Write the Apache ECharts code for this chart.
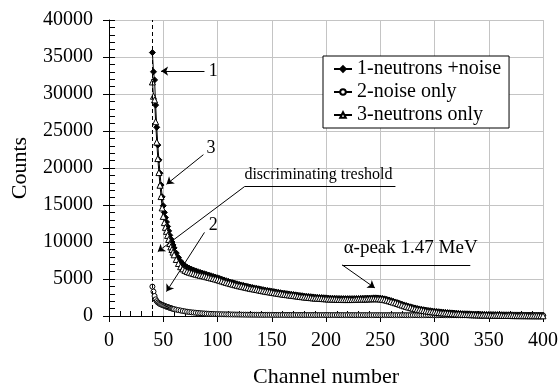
<!DOCTYPE html>
<html>
<head>
<meta charset="utf-8">
<script src="https://cdn.jsdelivr.net/npm/echarts@6/dist/echarts.min.js"></script>
<style>
  html, body { margin: 0; padding: 0; background: #fff; }
  #chart { width: 559px; height: 392px; }
</style>
</head>
<body>
<div id="chart"></div>
<script>
// channel numbers (every channel near the threshold, every 2nd afterwards)
var channels = [40,41,42,43,44,45,46,47,48,49,50,51,52,53,54,55,56,57,58,59,
  60,62,64,66,68,70,72,74,76,78,80,82,84,86,88,90,92,94,96,98,100,
  102,104,106,108,110,112,114,116,118,120,122,124,126,128,130,132,134,136,138,140,
  142,144,146,148,150,152,154,156,158,160,162,164,166,168,170,172,174,176,178,180,
  182,184,186,188,190,192,194,196,198,200,202,204,206,208,210,212,214,216,218,220,
  222,224,226,228,230,232,234,236,238,240,242,244,246,248,250,252,254,256,258,260,
  262,264,266,268,270,272,274,276,278,280,282,284,286,288,290,292,294,296,298,300,
  302,304,306,308,310,312,314,316,318,320,322,324,326,328,330,332,334,336,338,340,
  342,344,346,348,350,352,354,356,358,360,362,364,366,368,370,372,374,376,378,380,
  382,384,386,388,390,392,394,396,398,400];

// 1-neutrons +noise
var neutronsNoise = [35600,33000,31900,28500,25500,23100,21100,19300,17700,16100,14900,14000,13300,12700,12100,11500,10900,10400,10000,9600,
  9200,8500,7900,7400,7050,6800,6600,6450,6320,6200,6090,5990,5890,5800,5710,5620,5530,5440,5350,5260,5170,
  5070,4970,4870,4770,4680,4590,4510,4430,4350,4270,4200,4130,4060,3990,3920,3860,3800,3740,3680,3620,
  3560,3500,3450,3400,3350,3300,3250,3200,3150,3100,3060,3020,2980,2940,2900,2860,2820,2780,2740,2700,
  2670,2640,2610,2580,2550,2530,2510,2490,2470,2450,2430,2410,2400,2390,2380,2370,2360,2350,2350,2350,
  2350,2350,2360,2370,2380,2390,2400,2410,2420,2430,2440,2450,2450,2440,2420,2380,2320,2250,2170,2080,
  1990,1900,1800,1700,1600,1500,1410,1320,1240,1160,1090,1020,960,900,850,800,760,720,680,640,
  610,580,550,520,490,460,440,420,400,380,360,340,320,310,300,290,280,270,260,250,
  240,230,220,215,210,205,200,195,190,185,180,175,170,165,160,155,150,148,145,142,
  140,138,135,132,130,128,125,122,120,118];

// 2-noise only
var noiseOnly = [3970,3300,2700,2250,2000,1830,1720,1630,1560,1500,1440,1380,1320,1260,1210,1160,1110,1060,1010,970,
  930,860,800,740,680,630,580,540,500,470,440,410,385,360,340,320,305,290,275,265,255,
  245,238,231,224,218,212,206,201,196,191,187,183,179,175,172,169,166,163,160,158,
  156,154,152,150,148,147,146,145,144,143,142,141,140,139,138,138,137,137,136,136,
  135,135,134,134,133,133,132,132,131,131,130,130,129,129,128,128,127,127,126,126,
  125,125,124,124,123,123,122,122,121,121,120,120,120,119,119,118,118,117,117,116,
  116,115,115,114,114,113,113,112,112,112,111,111,111,110,110,110,109,109,109,108,
  108,108,107,107,107,106,106,106,105,105,105,104,104,104,103,103,103,102,102,102,
  101,101,101,100,100,100,99,99,99,98,98,98,97,97,97,96,96,96,95,95,
  95,94,94,94,93,93,93,92,92,92];

// 3-neutrons only
var neutronsOnly = [31630,29700,29200,26250,23500,21270,19380,17670,16140,14600,13460,12620,11980,11440,10890,10340,9790,9340,8990,8630,
  8270,7640,7100,6660,6370,6170,6020,5910,5820,5730,5650,5580,5505,5440,5370,5300,5225,5150,5075,4995,4915,
  4825,4732,4639,4546,4462,4378,4304,4229,4154,4079,4013,3947,3881,3815,3748,3691,3634,3577,3520,3462,
  3404,3346,3298,3250,3202,3153,3104,3055,3006,2957,2918,2879,2840,2801,2762,2722,2683,2643,2604,2564,
  2535,2505,2476,2446,2417,2397,2378,2358,2339,2319,2300,2280,2271,2261,2252,2242,2233,2223,2224,2224,
  2225,2225,2236,2246,2257,2267,2278,2288,2299,2309,2320,2330,2330,2321,2301,2262,2202,2133,2053,1964,
  1874,1785,1685,1586,1486,1387,1297,1208,1128,1048,979,909,849,790,740,690,651,611,571,532,
  502,472,443,413,383,354,334,314,295,275,255,236,216,206,197,187,177,168,158,148,
  139,129,119,115,110,105,101,96,91,87,82,77,73,68,63,59,54,52,50,47,
  45,44,41,38,37,35,32,30,28,26];

var seriesNames = ['1-neutrons +noise', '2-noise only', '3-neutrons only'];
var xTicks = { min: 0, max: 400, interval: 50 };
var yTicks = { min: 0, max: 40000, interval: 5000 };
var thresholdChannel = 40;

// annotations in data coordinates: [channel, counts]
var notes = [
  { text: '1', at: [96, 33100], size: 18 },
  { text: '3', at: [94, 22700], size: 18 },
  { text: '2', at: [96, 12300], size: 18 },
  { text: 'discriminating treshold', at: [193, 19100], size: 16 },
  { text: 'α-peak 1.47 MeV', at: [278, 9200], size: 19 }
];
var arrows = [
  [[88, 33100], [48, 33100]],
  [[87, 21800], [53, 17800]],
  [[125, 17500], [45, 8700]],
  [[88, 11300], [53, 3300]],
  [[215, 6900], [245, 3800]]
];
var underlines = [
  [[125, 17500], [264, 17500]],
  [[215, 6900], [333, 6900]]
];

function pairs(ys) {
  return ys.map(function (v, i) { return [channels[i], v]; });
}

var serif = '"Liberation Serif", "Times New Roman", serif';
var gridGray = '#c4c4c4';

var myChart = echarts.init(document.getElementById('chart'));

var markLineData = [];
arrows.forEach(function (a) {
  markLineData.push([{ coord: a[0], symbol: 'none' }, { coord: a[1], symbol: 'arrow' }]);
});
underlines.forEach(function (u) {
  markLineData.push([{ coord: u[0], symbol: 'none' }, { coord: u[1], symbol: 'none' }]);
});

myChart.setOption({
  animation: false,
  backgroundColor: '#fff',
  grid: { left: 109, right: 16, top: 20, bottom: 76, containLabel: false, outerBoundsMode: 'none' },
  legend: {
    data: seriesNames,
    orient: 'vertical',
    left: 323,
    top: 56,
    backgroundColor: '#fff',
    borderColor: '#000',
    borderWidth: 1,
    borderRadius: 0,
    padding: [3, 8, 3, 10],
    itemGap: 3,
    itemWidth: 18,
    itemHeight: 7,
    textStyle: { fontFamily: serif, fontSize: 20, color: '#000' }
  },
  xAxis: [{
    type: 'value',
    min: xTicks.min, max: xTicks.max, interval: xTicks.interval,
    name: 'Channel number',
    nameLocation: 'middle',
    nameGap: 50,
    nameTextStyle: { fontFamily: serif, fontSize: 22, color: '#000' },
    axisLine: { show: true, onZero: false, lineStyle: { color: '#000', width: 1 } },
    axisTick: { show: false, inside: true },
    minorTick: { show: true, splitNumber: 5, length: 5, lineStyle: { color: '#000', width: 1 } },
    axisLabel: { fontFamily: serif, fontSize: 20, color: '#000', margin: 15 },
    splitLine: { show: true, lineStyle: { color: gridGray, width: 1 } }
  }, {
    type: 'value',
    position: 'bottom',
    min: xTicks.min, max: xTicks.max, interval: xTicks.interval,
    axisLine: { show: false },
    axisTick: { show: true, length: 6, lineStyle: { color: '#000' } },
    axisLabel: { show: false },
    splitLine: { show: false }
  }],
  yAxis: [{
    type: 'value',
    min: yTicks.min, max: yTicks.max, interval: yTicks.interval,
    name: 'Counts',
    nameLocation: 'middle',
    nameGap: 78,
    nameTextStyle: { fontFamily: serif, fontSize: 22, color: '#000' },
    axisLine: { show: true, onZero: false, lineStyle: { color: '#000', width: 1 } },
    axisTick: { show: true, inside: true, length: 6, lineStyle: { color: '#000' } },
    minorTick: { show: true, splitNumber: 5, length: 6, lineStyle: { color: '#000', width: 1 } },
    axisLabel: {
      fontFamily: serif, fontSize: 20, color: '#000', margin: 16,
      formatter: function (v) { return String(v); }
    },
    splitLine: { show: true, lineStyle: { color: gridGray, width: 1 } }
  }, {
    type: 'value',
    position: 'left',
    min: yTicks.min, max: yTicks.max, interval: yTicks.interval,
    axisLine: { show: false },
    axisTick: { show: true, length: 6, lineStyle: { color: '#000' } },
    axisLabel: { show: false },
    splitLine: { show: false }
  }],
  series: [
    {
      name: seriesNames[0],
      type: 'line',
      data: pairs(neutronsNoise),
      symbol: 'diamond',
      symbolSize: 6,
      showAllSymbol: true,
      itemStyle: { color: '#000', borderColor: '#000', borderWidth: 1 },
      lineStyle: { color: '#000', width: 1 },
      z: 3,
      markLine: {
        silent: true,
        animation: false,
        symbolSize: 7,
        label: { show: false },
        lineStyle: { color: '#000', width: 1, type: 'solid' },
        emphasis: { disabled: true },
        data: markLineData
      },
      markPoint: {
        silent: true,
        animation: false,
        symbol: 'circle',
        symbolSize: 1,
        itemStyle: { color: 'transparent' },
        data: notes.map(function (n) {
          return {
            name: n.text,
            coord: n.at,
            label: {
              show: true,
              position: 'inside',
              formatter: '{b}',
              fontFamily: serif,
              fontSize: n.size,
              color: '#000'
            }
          };
        })
      }
    },
    {
      name: seriesNames[1],
      type: 'line',
      data: pairs(noiseOnly),
      symbol: 'circle',
      symbolSize: 5,
      showAllSymbol: true,
      itemStyle: { color: '#fff', borderColor: '#000', borderWidth: 1 },
      lineStyle: { color: '#000', width: 1 },
      z: 3,
      markLine: {
        silent: true,
        animation: false,
        symbol: ['none', 'none'],
        label: { show: false },
        lineStyle: { color: '#000', width: 1, type: [4, 3] },
        emphasis: { disabled: true },
        data: [{ xAxis: thresholdChannel }]
      }
    },
    {
      name: seriesNames[2],
      type: 'line',
      data: pairs(neutronsOnly),
      symbol: 'triangle',
      symbolSize: 6,
      showAllSymbol: true,
      itemStyle: { color: '#fff', borderColor: '#000', borderWidth: 1 },
      lineStyle: { color: '#000', width: 1 },
      z: 4
    }
  ]
});
window.onresize = function () {
  myChart.resize();
};
</script>
</body>
</html>
